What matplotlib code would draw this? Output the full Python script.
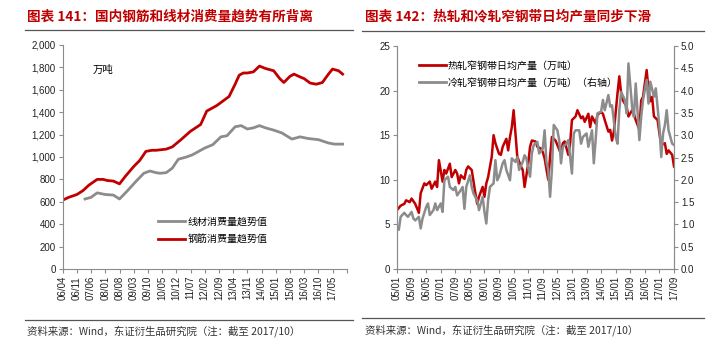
import matplotlib
matplotlib.use('Agg')
import matplotlib.pyplot as plt
from matplotlib.lines import Line2D
from matplotlib.ticker import FuncFormatter

plt.rcParams['font.family'] = ['Liberation Sans', 'Noto Sans CJK SC']

RED = '#C00000'
GRAY = '#8C8C8C'
AXC = '#8C8C8C'

# left chart: months since 2006/04
rebar_t = [0, 3, 7, 10, 13, 17, 20, 22, 25, 28, 31, 35, 38, 41, 44, 46, 51, 54, 58, 63,
           66, 68, 71, 74, 76, 79, 82, 85, 87, 89, 91, 94, 97, 100, 104, 107, 109, 112, 114, 117,
           119, 122, 125, 128, 131, 133, 136, 138]
rebar_v = [615, 640, 665, 700, 750, 800, 800, 790, 785, 760, 830, 915, 970, 1050, 1060, 1060, 1070, 1090, 1150, 1230,
           1266, 1290, 1410, 1440, 1460, 1500, 1540, 1650, 1730, 1750, 1750, 1760, 1812, 1790, 1770, 1700, 1665, 1720, 1740, 1715,
           1700, 1660, 1650, 1665, 1740, 1785, 1770, 1740]
wire_t = [11, 14, 17, 21, 25, 28, 32, 36, 40, 43, 46, 48, 51, 54, 57, 61, 64, 66, 70, 74,
          78, 81, 85, 88, 91, 94, 97, 100, 104, 108, 113, 117, 121, 126, 131, 134, 138]
wire_v = [625, 640, 680, 665, 660, 625, 700, 780, 855, 875, 860, 855, 860, 900, 980, 1000, 1020, 1040, 1080, 1110,
          1180, 1190, 1270, 1280, 1250, 1260, 1280, 1260, 1240, 1215, 1160, 1180, 1165, 1155, 1125, 1115, 1115]
left_labels = ['06/04', '06/11', '07/06', '08/01', '08/08', '09/03', '09/10', '10/05', '10/12', '11/07',
               '12/02', '12/09', '13/04', '13/11', '14/06', '15/01', '15/08', '16/03', '16/10', '17/05', '']

# right chart: months since 2005/01
hot_t = [0, 2, 4, 5, 7, 8, 10, 12, 13, 15, 16, 18, 19, 21, 22, 23, 25, 26, 27, 29,
         30, 32, 33, 34, 35, 37, 38, 39, 41, 43, 44, 45, 47, 48, 49, 50, 52, 53, 54, 56,
         57, 58, 60, 61, 62, 63, 64, 65, 66, 68, 69, 70, 72, 73, 74, 76, 77, 79, 80, 81,
         83, 84, 85, 87, 88, 90, 91, 92, 94, 95, 96, 98, 99, 101, 102, 103, 105, 106, 107, 109,
         110, 112, 113, 114, 116, 117, 118, 119, 121, 122, 123, 124, 126, 127, 129, 130, 131, 133, 134, 135,
         137, 138, 139, 140, 141, 143, 144, 145, 147, 148, 149, 151, 152]
hot_v = [6.6, 7.1, 7.3, 7.7, 7.5, 7.9, 7.3, 6.3, 8.5, 9.6, 9.4, 9.8, 9.0, 9.8, 9.2, 12.2, 9.8, 11.1, 10.7, 11.8,
         10.3, 11.1, 10.7, 9.6, 10.5, 10.1, 11.1, 11.5, 11.1, 8.5, 7.3, 8.1, 9.2, 8.1, 9.6, 10.3, 12.6, 15.0, 14.1, 12.9,
         12.8, 13.7, 14.6, 13.3, 14.8, 15.9, 17.8, 15.2, 12.6, 11.5, 11.1, 9.2, 11.8, 13.7, 14.4, 14.3, 13.7, 13.5, 13.1, 12.4,
         10.0, 12.6, 14.8, 14.4, 13.9, 12.9, 14.1, 14.3, 12.8, 14.1, 16.7, 17.1, 17.8, 16.9, 17.1, 16.5, 17.4, 15.9, 17.1, 16.3,
         17.3, 17.6, 17.4, 16.7, 15.4, 15.6, 14.4, 15.4, 19.7, 21.6, 19.7, 18.9, 18.2, 17.1, 17.8, 17.4, 16.7, 15.6, 18.9, 19.3,
         22.3, 20.1, 18.8, 19.3, 17.1, 16.7, 15.2, 13.9, 14.1, 12.9, 13.3, 12.8, 11.5]
cold_t = [0, 1, 2, 4, 5, 6, 8, 9, 10, 12, 13, 14, 16, 17, 18, 20, 21, 22, 24, 25,
          26, 28, 29, 31, 32, 33, 35, 36, 37, 38, 40, 41, 42, 44, 45, 47, 48, 49, 50, 51,
          53, 54, 55, 56, 58, 59, 60, 62, 63, 65, 66, 67, 69, 70, 71, 73, 74, 75, 77, 78,
          80, 81, 82, 83, 84, 85, 86, 88, 89, 90, 91, 93, 94, 96, 97, 98, 100, 101, 102, 104,
          105, 107, 108, 109, 110, 112, 113, 114, 116, 117, 118, 120, 121, 122, 123, 125, 126, 127, 129, 130,
          131, 133, 134, 135, 137, 138, 139, 141, 142, 144, 145, 146, 147, 148, 149, 151, 152]
cold_v = [0.91, 0.88, 1.17, 1.26, 1.21, 1.17, 1.28, 1.13, 1.09, 1.17, 0.91, 1.13, 1.39, 1.47, 1.21, 1.32, 1.47, 1.32, 1.47, 1.28,
          1.99, 2.07, 1.84, 1.77, 1.84, 1.65, 1.77, 1.84, 1.35, 1.84, 2.10, 1.84, 1.69, 1.54, 1.32, 1.62, 1.28, 1.02, 1.54, 1.84,
          1.92, 2.44, 1.99, 2.07, 2.37, 2.44, 2.22, 1.99, 2.48, 2.40, 2.51, 2.22, 2.40, 2.55, 2.48, 2.07, 2.59, 2.78, 2.85, 2.59,
          2.70, 3.11, 2.40, 2.22, 1.62, 2.22, 3.23, 3.11, 2.89, 2.37, 2.74, 2.81, 2.89, 2.14, 3.04, 3.11, 3.11, 2.81, 2.96, 3.04,
          2.74, 3.11, 2.37, 2.89, 3.49, 3.53, 3.79, 3.56, 3.90, 3.64, 3.67, 2.96, 2.81, 3.56, 3.97, 3.79, 3.49, 4.61, 3.64, 3.41,
          4.16, 2.89, 3.41, 3.79, 4.24, 3.71, 4.20, 3.86, 4.05, 3.19, 2.51, 3.04, 3.23, 3.56, 3.11, 2.81, 2.78]
right_labels = ['05/01', '05/09', '06/05', '07/01', '07/09', '08/05', '09/01', '09/09', '10/05', '11/01',
                '11/09', '12/05', '13/01', '13/09', '14/05', '15/01', '15/09', '16/05', '17/01', '17/09']


def style_axes(ax, spines):
  for s in ['top', 'right', 'left', 'bottom']:
    ax.spines[s].set_visible(s in spines)
    ax.spines[s].set_color(AXC)
    ax.spines[s].set_linewidth(0.8)
  ax.tick_params(axis='both', labelsize=7, color=AXC, length=3, width=0.8, pad=2, labelcolor='#222222')
  ax.tick_params(axis='x', rotation=90)


W, H = 724, 353
fig = plt.figure(figsize=(W / 100, H / 100), dpi=100)

# ---- left chart
ax1 = fig.add_axes([62.7 / W, 1 - 269 / H, 284 / W, 224 / H])
style_axes(ax1, ['left', 'bottom'])
ax1.plot(wire_t, wire_v, color=GRAY, lw=2.0, label='线材消费量趋势值', solid_joinstyle='round')
ax1.plot(rebar_t, rebar_v, color=RED, lw=2.0, label='钢筋消费量趋势值', solid_joinstyle='round')
ax1.set_xlim(0, 140)
ax1.set_ylim(0, 2000)
ax1.set_xticks(range(0, 141, 7))
ax1.set_xticklabels(left_labels)
ax1.set_yticks(range(0, 2001, 200))
ax1.yaxis.set_major_formatter(FuncFormatter(lambda v, p: '{:,.0f}'.format(v)))
ax1.text(0.106, 0.89, '万吨', transform=ax1.transAxes, fontsize=7.5, family='Noto Sans CJK SC', va='center')
ax1.legend(loc='upper left', bbox_to_anchor=(0.336, 0.235), frameon=False,
           handlelength=2.7, handletextpad=0.25, labelspacing=0.85, borderpad=0, borderaxespad=0,
           prop={'family': 'Noto Sans CJK SC', 'size': 7.2})

# ---- right chart (secondary axis series drawn on top, as in the source)
ax2 = fig.add_axes([397 / W, 1 - 269 / H, 277 / W, 223 / H])
style_axes(ax2, ['left', 'bottom', 'right'])
ax3 = ax2.twinx()
style_axes(ax3, ['left', 'bottom', 'right'])
ax2.plot(hot_t, hot_v, color=RED, lw=1.8, solid_joinstyle='round')
ax3.plot(cold_t, cold_v, color=GRAY, lw=1.8, solid_joinstyle='round')
ax2.set_xlim(0, 152)
ax2.set_ylim(0, 25)
ax3.set_ylim(0, 5)
ax2.set_xticks(range(0, 153, 8))
ax2.set_xticklabels(right_labels)
ax2.set_yticks(range(0, 26, 5))
ax3.set_yticks([i * 0.5 for i in range(11)])
ax3.yaxis.set_major_formatter(FuncFormatter(lambda v, p: '{:.1f}'.format(v)))
handles = [Line2D([], [], color=RED, lw=2), Line2D([], [], color=GRAY, lw=2)]
ax3.legend(handles, ['热轧窄钢带日均产量（万吨）', '冷轧窄钢带日均产量（万吨）（右轴）'],
           loc='upper left', bbox_to_anchor=(0.079, 0.935), frameon=False,
           handlelength=2.7, handletextpad=0.2, labelspacing=0.75, borderpad=0, borderaxespad=0,
           prop={'family': 'Noto Sans CJK SC', 'size': 7.2})

# ---- titles, rules and sources
title_font = dict(family='Noto Sans CJK SC', fontsize=9.8, color=RED, weight='bold', va='center')
fig.text(27 / W, 1 - 17 / H, '图表 141：国内钢筋和线材消费量趋势有所背离', **title_font)
fig.text(365 / W, 1 - 17 / H, '图表 142：热轧和冷轧窄钢带日均产量同步下滑', **title_font)
for x0, x1, y in [(25, 353, 29.5), (362, 704, 31), (25, 353, 320), (362, 704, 318)]:
  fig.add_artist(Line2D([x0 / W, x1 / W], [1 - y / H, 1 - y / H], color='#555555', lw=0.9))
src_font = dict(family='Noto Sans CJK SC', fontsize=7.5, color='#333333', va='center')
fig.text(27 / W, 1 - 331 / H, '资料来源：Wind，东证衍生品研究院（注：截至 2017/10）', **src_font)
fig.text(365 / W, 1 - 330 / H, '资料来源：Wind，东证衍生品研究院（注：截至 2017/10）', **src_font)

fig.savefig('out.png', dpi=100)
